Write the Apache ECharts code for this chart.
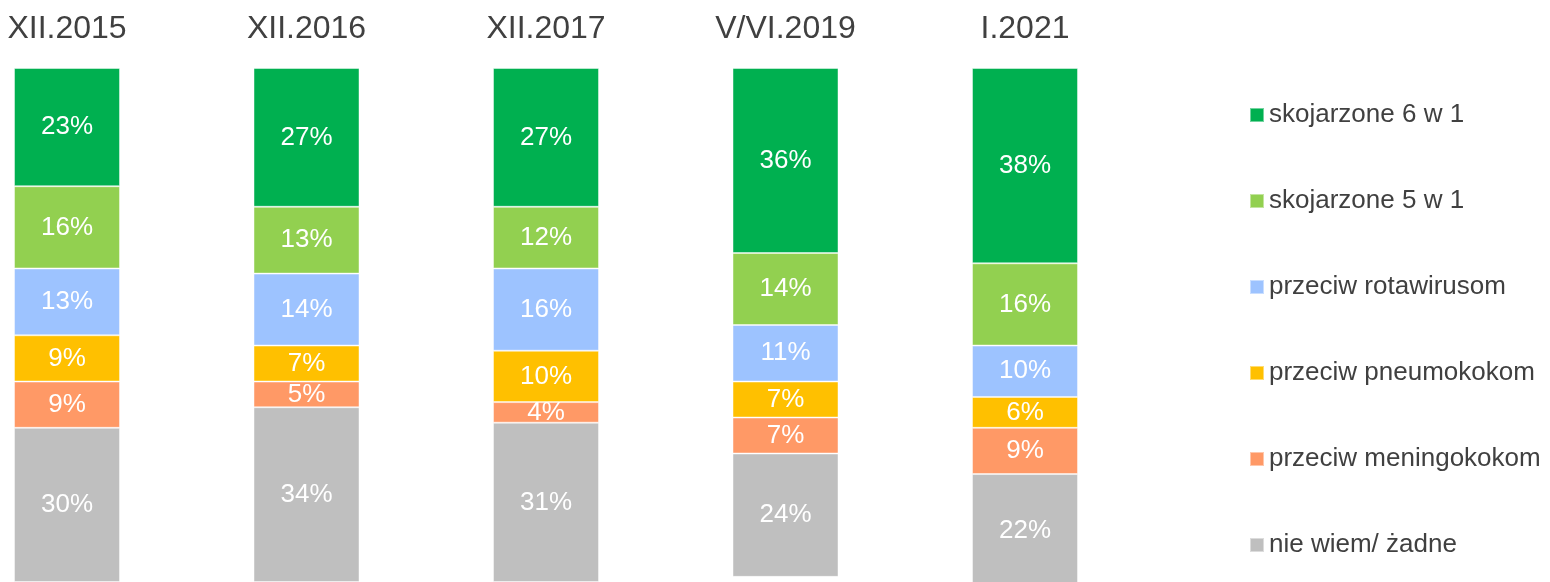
<!DOCTYPE html>
<html>
<head>
<meta charset="utf-8">
<script src="https://cdn.jsdelivr.net/npm/echarts@6/dist/echarts.min.js"></script>
<style>
  html, body { margin: 0; padding: 0; background: #fff; }
  #chart { width: 1550px; height: 582px; }
</style>
</head>
<body>
<div id="chart"></div>
<script>
// Survey waves (shown along the top)
const waves = ['XII.2015', 'XII.2016', 'XII.2017', 'V/VI.2019', 'I.2021'];

// Share of answers per wave, in percent
const skojarzone6w1 = [23, 27, 27, 36, 38];
const skojarzone5w1 = [16, 13, 12, 14, 16];
const rotawirusy    = [13, 14, 16, 11, 10];
const pneumokoki    = [9, 7, 10, 7, 6];
const meningokoki   = [9, 5, 4, 7, 9];
const nieWiem       = [30, 34, 31, 24, 22];

const seriesDefs = [
  { name: 'skojarzone 6 w 1',     data: skojarzone6w1, color: '#00B050' },
  { name: 'skojarzone 5 w 1',     data: skojarzone5w1, color: '#92D050' },
  { name: 'przeciw rotawirusom',  data: rotawirusy,    color: '#9DC3FF' },
  { name: 'przeciw pneumokokom',  data: pneumokoki,    color: '#FFC000' },
  { name: 'przeciw meningokokom', data: meningokoki,   color: '#FF9966' },
  { name: 'nie wiem/ żadne',      data: nieWiem,       color: '#BFBFBF' }
];

const FONT = '"Liberation Sans", Arial, sans-serif';

const chart = echarts.init(document.getElementById('chart'), null, { renderer: 'canvas' });

chart.setOption({
  animation: false,
  backgroundColor: '#ffffff',
  // ticks sit on the bar centres (first at x=67, last at x=1025)
  grid: { left: 67, width: 958, top: 68, bottom: 0, containLabel: false },
  xAxis: {
    type: 'category',
    position: 'top',
    boundaryGap: false,
    data: waves,
    axisLine: { show: false },
    axisTick: { show: false },
    splitLine: { show: false },
    axisLabel: { color: '#404040', fontSize: 32, fontFamily: FONT, margin: 23 }
  },
  yAxis: {
    type: 'value',
    min: 0,
    max: 100,
    inverse: true,
    show: false,
    splitLine: { show: false }
  },
  legend: {
    orient: 'vertical',
    left: 1249,
    top: 102,
    padding: 0,
    itemWidth: 14,
    itemHeight: 14,
    itemGap: 60,
    icon: 'rect',
    textStyle: { color: '#404040', fontSize: 26, fontFamily: FONT },
    data: seriesDefs.map(s => s.name)
  },
  series: seriesDefs.map(s => ({
    name: s.name,
    type: 'bar',
    stack: 'total',
    barWidth: 106,
    clip: false,
    data: s.data,
    itemStyle: { color: s.color, borderColor: 'rgba(255,255,255,0.45)', borderWidth: 1 },
    label: {
      show: true,
      position: 'inside',
      formatter: '{c}%',
      color: '#ffffff',
      fontSize: 26,
      fontFamily: FONT
    }
  }))
});
</script>
</body>
</html>
